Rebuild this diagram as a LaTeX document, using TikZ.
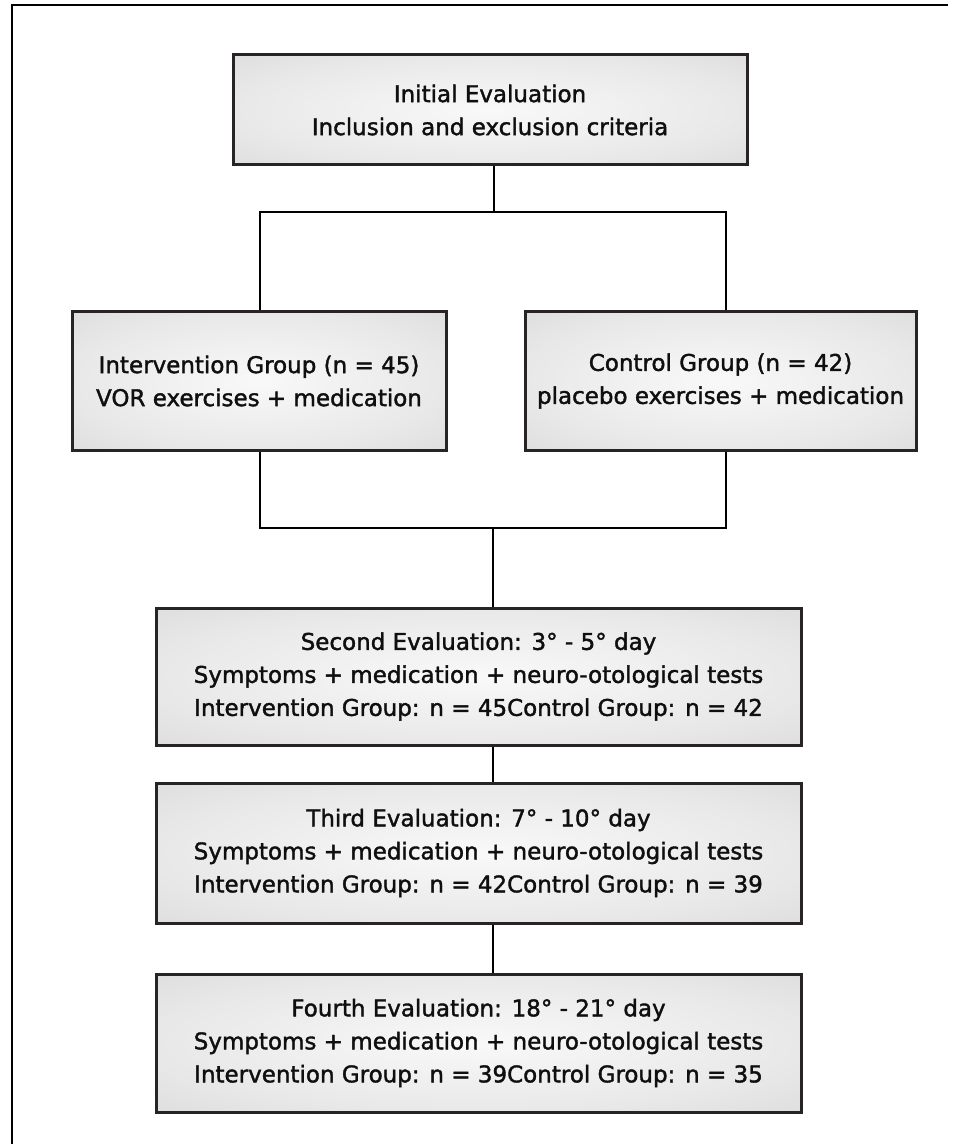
\documentclass[tikz,border=0pt]{standalone}
\usepackage{fontspec}
\setmainfont{DejaVu Sans}
\newfontfamily\boxfont[FakeBold=1.6]{DejaVu Sans}
\usetikzlibrary{calc}

\definecolor{boxline}{RGB}{40,36,36}
\definecolor{textdark}{RGB}{15,15,15}
\pgfdeclareradialshading{boxshade}{\pgfpoint{0bp}{0bp}}{color(0bp)=(gray!5); color(25bp)=(gray!18); color(50bp)=(gray!36); color(70bp)=(gray!42)}

\tikzset{
  stagebox/.style = {draw = boxline, line width = 1.5pt, shading = boxshade, inner sep = 0pt, align = center, text = textdark, font = \boxfont\fontsize{11.5}{16.5}\selectfont},
  link/.style = {draw = black, line width = 1pt}
}

\begin{document}
\begin{tikzpicture}[x = 0.5pt, y = -0.5pt]
\path[use as bounding box](0,0)rectangle(953,1144);
% frame
\coordinate(f1)at(11.5,1144);
\coordinate(f2)at(11.5,5);
\coordinate(f3)at(948,5);
\path[draw, line width = 1pt](f1)--(f2)--(f3);
% first stage
\node[stagebox, minimum width = 257pt, minimum height = 55pt](init)at(490,110){Initial Evaluation\\Inclusion and exclusion criteria};
% groups
\node[stagebox, minimum width = 187pt, minimum height = 69pt](interv)at(259,381){Intervention Group (n = 45)\\VOR exercises + medication};
\node[stagebox, minimum width = 195.5pt, minimum height = 69pt](ctrl)at(720.5,381){Control Group (n = 42)\\placebo exercises + medication};
% follow-ups
\node[stagebox, minimum width = 322.5pt, minimum height = 68.5pt](second)at(478.5,676.5){Second Evaluation: 3° - 5° day\\Symptoms + medication + neuro-otological tests\\Intervention Group: n = 45Control Group: n = 42};
\node[stagebox, minimum width = 322.5pt, minimum height = 70pt](third)at(478.5,853){Third Evaluation: 7° - 10° day\\Symptoms + medication + neuro-otological tests\\Intervention Group: n = 42Control Group: n = 39};
\node[stagebox, minimum width = 322.5pt, minimum height = 69pt](fourth)at(478.5,1043){Fourth Evaluation: 18° - 21° day\\Symptoms + medication + neuro-otological tests\\Intervention Group: n = 39Control Group: n = 35};
% split
\coordinate(j1)at(494,212);
\coordinate(jl)at(260,212);
\coordinate(jr)at(726,212);
\path[link](init.south -| j1)--(j1);
\path[link](interv.north -| jl)--(jl)--(jr)--(ctrl.north -| jr);
% merge
\coordinate(k1)at(493,528);
\coordinate(kl)at(260,528);
\coordinate(kr)at(726,528);
\path[link](interv.south -| kl)--(kl)--(kr)--(ctrl.south -| kr);
\path[link](k1)--(second.north -| k1);
\path[link](second.south -| k1)--(third.north -| k1);
\path[link](third.south -| k1)--(fourth.north -| k1);
\end{tikzpicture}
\end{document}
